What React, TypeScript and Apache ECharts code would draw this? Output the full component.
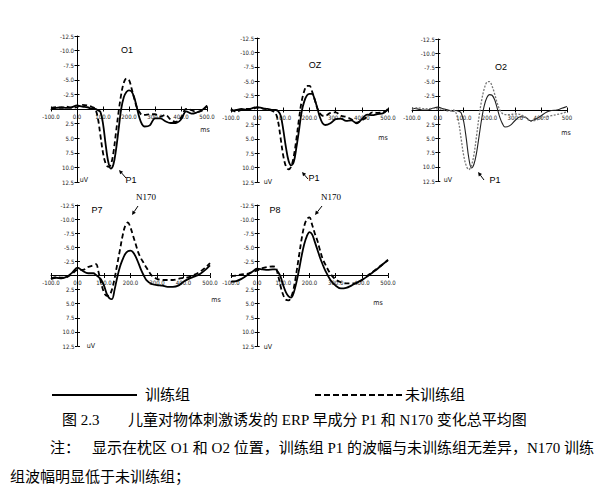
import React, { useEffect, useRef } from 'react';
import * as echarts from 'echarts';

// time points (ms) shared by every waveform
const times = [-100, -80, -60, -40, -20, 0, 20, 40, 60, 70, 80, 90, 100, 110, 120, 130, 140, 150, 160, 170, 180, 190, 200, 210, 220, 230, 240, 250, 260, 280, 300, 320, 340, 360, 380, 400, 420, 440, 460, 480, 500];

const groupNames = ['训练组', '未训练组'];
const panelNames = ['O1', 'OZ', 'O2', 'P7', 'P8'];
const xTickValues = [-100, 0, 100, 200, 300, 400, 500];
const yTickValues = [-12.5, -10, -7.5, -5, -2.5, 0, 2.5, 5, 7.5, 10, 12.5];

// amplitudes (uV), negative up
const o1Trained = [0.0, -0.2, -0.3, -0.2, -0.3, -0.6, -0.4, -0.3, 0.0, 0.0, 0.2, 0.5, 2.5, 6.0, 9.0, 10.2, 9.5, 7.0, 3.5, 0.0, -2.0, -2.9, -3.2, -3.0, -2.0, -0.3, 1.5, 2.6, 3.0, 2.8, 1.6, 1.6, 2.1, 2.4, 2.4, 1.8, 0.4, 0.8, 0.6, 0.2, -0.6];
const o1Untrained = [-0.2, -0.3, -0.2, -0.4, -0.2, -0.3, -0.7, -0.6, -0.3, 0.0, 1.5, 4.5, 7.5, 9.3, 9.9, 9.5, 7.5, 4.0, 0.5, -2.5, -4.5, -5.2, -5.0, -3.5, -1.8, -0.3, 0.5, 1.0, 1.0, 0.9, 0.9, 1.3, 1.0, 1.8, 2.2, 1.5, 0.0, 0.2, 0.5, 0.3, -0.5];
const ozTrained = [0.2, 0.0, -0.2, 0.0, -0.3, -0.5, -0.3, -0.2, 0.0, 0.0, 0.2, 1.0, 3.5, 6.5, 8.8, 9.6, 9.0, 6.5, 3.5, 0.3, -1.5, -2.5, -2.8, -2.8, -1.8, -0.3, 1.3, 2.3, 2.6, 2.3, 1.6, 1.5, 1.9, 1.8, 2.3, 1.6, 0.8, 0.9, 0.7, 0.6, -0.2];
const ozUntrained = [-0.2, 0.3, 0.0, -0.2, -0.2, -0.4, -0.3, -0.1, 0.2, 0.5, 2.0, 5.0, 8.0, 9.8, 10.3, 9.8, 8.0, 5.0, 1.5, -1.5, -3.3, -4.2, -4.2, -3.2, -1.8, -0.3, 0.6, 1.0, 1.0, 0.5, 0.4, 1.0, 1.2, 1.6, 2.2, 1.8, 1.2, 0.4, 0.5, 0.4, 0.0];
const o2Trained = [-0.3, -0.2, 0.0, 0.0, -0.3, -0.5, -0.2, 0.0, 0.2, 0.1, 0.2, 0.5, 2.0, 5.0, 8.5, 10.2, 9.5, 7.5, 4.5, 1.5, -0.8, -2.2, -2.7, -2.6, -1.8, -0.3, 1.3, 2.4, 3.0, 2.7, 1.8, 1.2, 1.3, 1.9, 1.6, 1.0, 0.4, 0.1, 0.0, -0.3, -0.6];
const o2Untrained = [-0.1, -0.4, -0.3, -0.2, -0.3, -0.2, -0.1, 0.2, 0.0, 0.5, 2.0, 5.0, 8.0, 9.8, 10.5, 9.8, 7.8, 4.5, 1.0, -1.8, -3.8, -4.9, -5.0, -4.2, -2.8, -1.2, 0.0, 0.6, 0.8, 0.8, 0.7, 0.8, 1.3, 2.0, 1.8, 1.4, 1.2, 1.0, 0.8, 0.6, 0.3];
const p7Trained = [0.6, 0.4, 0.5, 0.2, -0.5, -1.4, -0.8, -0.4, -0.4, -0.1, 0.3, 0.8, 1.8, 3.2, 4.0, 4.2, 2.5, 0.3, -1.5, -2.8, -3.8, -4.3, -4.4, -4.1, -3.3, -2.2, -1.0, 0.0, 0.8, 1.5, 1.7, 1.8, 2.0, 2.0, 1.8, 1.1, 0.6, 0.2, -0.2, -0.9, -1.8];
const p7Untrained = [0.6, 0.3, 0.4, 0.3, -0.3, -1.0, -1.0, -1.5, -1.8, -2.0, -0.5, 1.5, 3.0, 3.6, 3.5, 2.5, 0.5, -2.0, -4.5, -7.0, -8.8, -9.4, -8.5, -7.0, -5.5, -4.0, -3.0, -2.2, -1.4, 0.0, 0.6, 0.8, 0.8, 0.8, 0.6, 0.4, 0.3, -0.1, -0.6, -1.3, -2.2];
const p8Trained = [1.1, 1.0, 0.6, 0.0, -0.6, -1.2, -1.1, -1.0, -1.1, -1.1, -0.6, 0.3, 1.8, 3.0, 3.7, 3.9, 3.0, 1.2, -1.0, -3.5, -5.6, -7.0, -7.7, -7.3, -6.0, -4.6, -3.2, -2.0, -0.9, 0.8, 1.8, 2.3, 2.2, 1.8, 1.3, 0.8, 0.2, -0.5, -1.2, -2.0, -2.7];
const p8Untrained = [0.1, 0.0, -0.2, -0.3, -0.6, -0.9, -1.3, -1.5, -1.6, -1.5, 0.0, 2.0, 3.5, 4.3, 4.4, 3.8, 2.2, -0.5, -3.5, -6.5, -8.8, -10.0, -10.3, -9.0, -7.5, -6.2, -4.5, -3.0, -2.0, -0.3, 0.7, 1.2, 1.4, 1.4, 1.4, 0.8, 0.1, -0.6, -1.3, -2.0, -2.8];

const trainedSets = [o1Trained, ozTrained, o2Trained, p7Trained, p8Trained];
const untrainedSets = [o1Untrained, ozUntrained, o2Untrained, p7Untrained, p8Untrained];

const captionNo = '图 2.3';
const captionText = '儿童对物体刺激诱发的 ERP 早成分 P1 和 N170 变化总平均图';
const noteHead = '注：';
const noteLine1 = '显示在枕区 O1 和 O2 位置，训练组 P1 的波幅与未训练组无差异，N170 训练';
const noteLine2 = '组波幅明显低于未训练组；';

// layout
const grids = [
  { left: 51, top: 36, width: 156, height: 146 },
  { left: 231, top: 38, width: 157, height: 144 },
  { left: 412, top: 39, width: 155, height: 142 },
  { left: 51, top: 205, width: 159, height: 141 },
  { left: 231, top: 205, width: 157, height: 141 },
];
const titlePos = [[127, 50], [315, 65], [501, 67], [97, 210], [275, 210]];
const msPos = [[205, 130], [383, 138], [566, 133], [216, 300], [378, 303]];
const uvPos = [[84, 180], [268, 182], [448, 180], [91, 346], [268, 347]];
const peakLabels = [
  { text: 'P1', x: 131, y: 180, tail: [126, 178], head: [119, 170] },
  { text: 'P1', x: 314, y: 178, tail: [308, 179], head: [302, 172] },
  { text: 'P1', x: 495, y: 180, tail: [484, 180], head: [478, 172] },
  { text: 'N170', x: 146, y: 197, tail: [138, 206], head: [132, 215] },
  { text: 'N170', x: 331, y: 197, tail: [322, 206], head: [315, 215] },
];

const smallFont = "'Liberation Sans Narrow', 'DejaVu Sans Condensed', sans-serif";
const cnFont = "'Liberation Serif', 'Noto Sans CJK SC', serif";

function txt(text: string, x: number, y: number, font: string, align = 'center', color = '#000') {
  return {
    type: 'text',
    x,
    y,
    silent: true,
    style: { text, font, fill: color, textAlign: align, textVerticalAlign: 'middle', align, verticalAlign: 'middle' },
  };
}

function arrow(tail: number[], head: number[]) {
  const dx = head[0] - tail[0];
  const dy = head[1] - tail[1];
  const L = Math.hypot(dx, dy);
  const ux = dx / L;
  const uy = dy / L;
  const bx = head[0] - ux * 4;
  const by = head[1] - uy * 4;
  const px = -uy;
  const py = ux;
  return [
    { type: 'line', silent: true, shape: { x1: tail[0], y1: tail[1], x2: bx, y2: by }, style: { stroke: '#000', lineWidth: 1 } },
    {
      type: 'polygon',
      silent: true,
      shape: { points: [[head[0], head[1]], [bx + px * 2, by + py * 2], [bx - px * 2, by - py * 2]] },
      style: { fill: '#000' },
    },
  ];
}

export default function App() {
  const ref = useRef<HTMLDivElement>(null);
  useEffect(() => {
    if (!ref.current) return;
    const chart = echarts.init(ref.current, undefined, { renderer: 'svg' });

    const xMin = xTickValues[0];
    const xMax = xTickValues[xTickValues.length - 1];
    const yMin = yTickValues[0];
    const yMax = yTickValues[yTickValues.length - 1];

    const zeroDown = (g: any) => (g.height * (0 - yMax)) / (yMin - yMax); // px from top to y=0
    const zeroRight = (g: any) => (g.width * (0 - xMin)) / (xMax - xMin); // px from left to x=0

    const xBase = (g: any, i: number) => ({
      type: 'value',
      gridIndex: i,
      min: xMin,
      max: xMax,
      interval: 100,
      axisLine: { onZero: false, lineStyle: { color: '#000', width: 1 } },
      axisTick: { show: true, length: 2.5, lineStyle: { color: '#000' } },
      splitLine: { show: false },
    });
    const yBase = (g: any, i: number) => ({
      type: 'value',
      gridIndex: i,
      inverse: true,
      min: yMin,
      max: yMax,
      interval: 2.5,
      axisLine: { onZero: false, lineStyle: { color: '#000', width: 1 } },
      axisTick: { show: true, length: 2.5, lineStyle: { color: '#000' } },
      splitLine: { show: false },
    });

    // main axes, shifted through the origin
    const xAxis: any[] = grids.map((g, i) => ({
      ...xBase(g, i),
      position: 'bottom',
      offset: -(g.height - zeroDown(g)),
      axisLabel: {
        fontSize: 6,
        fontFamily: smallFont,
        color: '#222',
        margin: 4,
        showMinLabel: true,
        showMaxLabel: true,
        formatter: (v: number) => (i === 2 && v === 500 ? '500' : v.toFixed(1)),
      },
    }));
    const yAxis: any[] = grids.map((g, i) => ({
      ...yBase(g, i),
      position: 'left',
      offset: -zeroRight(g),
      axisLabel: {
        fontSize: 6,
        fontFamily: smallFont,
        color: '#222',
        margin: 3,
        showMinLabel: true,
        showMaxLabel: true,
        formatter: (v: number) => (v === 0 ? '' : v.toFixed(1)),
      },
    }));
    // twin axes (ticks on the other side, so the ticks cross the axis lines)
    grids.forEach((g, i) => {
      xAxis.push({ ...xBase(g, i), position: 'top', offset: -zeroDown(g), axisLine: { show: false, onZero: false }, axisLabel: { show: false } });
      yAxis.push({ ...yBase(g, i), position: 'right', offset: -(g.width - zeroRight(g)), axisLine: { show: false, onZero: false }, axisLabel: { show: false } });
    });

    const series: any[] = [];
    grids.forEach((_, i) => {
      const thin = i === 2;
      series.push({
        type: 'line',
        name: groupNames[0],
        xAxisIndex: i,
        yAxisIndex: i,
        data: times.map((t, k) => [t, trainedSets[i][k]]),
        symbol: 'none',
        smooth: 0.35,
        itemStyle: { color: '#000' },
        lineStyle: { color: thin ? '#222' : '#000', width: thin ? 1.1 : 1.8, type: 'solid' },
        z: 3,
      });
    });
    grids.forEach((_, i) => {
      const thin = i === 2;
      series.push({
        type: 'line',
        name: groupNames[1],
        xAxisIndex: i,
        yAxisIndex: i,
        data: times.map((t, k) => [t, untrainedSets[i][k]]),
        symbol: 'none',
        smooth: 0.35,
        itemStyle: { color: '#000' },
        lineStyle: { color: thin ? '#777' : '#000', width: thin ? 1.3 : 1.8, type: thin ? [2, 1.5] : [5, 3] },
        z: 4,
      });
    });

    const elements: any[] = [];
    panelNames.forEach((n, i) => {
      elements.push(txt(n, titlePos[i][0], titlePos[i][1], `9px 'Liberation Sans', sans-serif`));
      elements.push(txt('ms', msPos[i][0], msPos[i][1], `7px ${smallFont}`, 'center', '#111'));
      elements.push(txt('uV', uvPos[i][0], uvPos[i][1], `7px ${smallFont}`, 'center', '#111'));
    });
    peakLabels.forEach((p) => {
      elements.push(txt(p.text, p.x, p.y, p.text === 'P1' ? `9px 'Liberation Sans', sans-serif` : `9px 'Liberation Serif', serif`));
      elements.push(...arrow(p.tail, p.head));
    });
    // legend
    elements.push({ type: 'line', silent: true, shape: { x1: 52, y1: 395, x2: 137, y2: 395 }, style: { stroke: '#000', lineWidth: 2 } });
    elements.push(txt(groupNames[0], 145, 395, `15px ${cnFont}`, 'left'));
    elements.push({ type: 'line', silent: true, shape: { x1: 315, y1: 395, x2: 403, y2: 395 }, style: { stroke: '#000', lineWidth: 2, lineDash: [6, 3] } });
    elements.push(txt(groupNames[1], 405, 395, `15px ${cnFont}`, 'left'));
    // caption and note
    elements.push(txt(captionNo, 62, 420, `15px ${cnFont}`, 'left'));
    elements.push(txt(captionText, 128, 420, `15px ${cnFont}`, 'left'));
    elements.push(txt(noteHead, 50, 448, `15px ${cnFont}`, 'left'));
    elements.push(txt(noteLine1, 92, 448, `15px ${cnFont}`, 'left'));
    elements.push(txt(noteLine2, 10, 477, `15px ${cnFont}`, 'left'));

    chart.setOption({
      animation: false,
      backgroundColor: '#fff',
      grid: grids.map((g) => ({ ...g, containLabel: false })),
      xAxis,
      yAxis,
      series,
      graphic: { elements },
    });
    return () => chart.dispose();
  }, []);
  return <div ref={ref} style={{ position: 'fixed', left: 0, top: 0, width: 600, height: 502, background: '#fff' }} />;
}
